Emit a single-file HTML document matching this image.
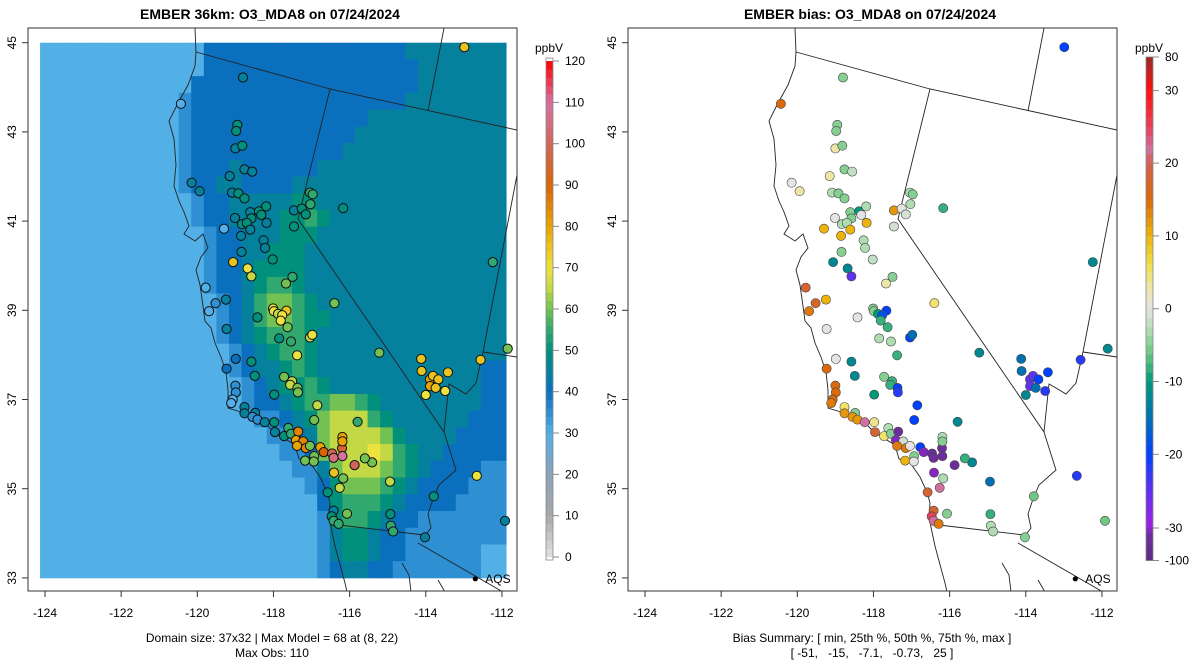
<!DOCTYPE html>
<html><head><meta charset="utf-8">
<style>
html,body{margin:0;padding:0;background:#fff;}
svg{display:block;font-family:"Liberation Sans",Arial,sans-serif;}
</style></head>
<body>
<svg id="chart" width="1200" height="672" viewBox="0 0 1200 672" xmlns="http://www.w3.org/2000/svg">
<defs>
<clipPath id="clipL"><rect x="28" y="28" width="489" height="563"/></clipPath>
<clipPath id="clipR"><rect x="628" y="28" width="489" height="563"/></clipPath>
</defs>
<text x="270" y="19" text-anchor="middle" font-size="14" font-weight="bold">EMBER 36km: O3_MDA8 on 07/24/2024</text>
<text x="870" y="19" text-anchor="middle" font-size="14" font-weight="bold">EMBER bias: O3_MDA8 on 07/24/2024</text>
<g id="leftPanel"></g>
<g id="rightPanel"></g>
<text x="272" y="642" text-anchor="middle" font-size="12">Domain size: 37x32 | Max Model = 68 at (8, 22)</text>
<text x="272" y="657" text-anchor="middle" font-size="12">Max Obs: 110</text>
<text x="872" y="642" text-anchor="middle" font-size="12">Bias Summary: [ min, 25th %, 50th %, 75th %, max ]</text>
<text x="872" y="657" text-anchor="middle" font-size="12" xml:space="preserve">[ -51,   -15,   -7.1,   -0.73,   25 ]</text>
</svg>
<script>
// ---- data ----
const xTicks = [-124,-122,-120,-118,-116,-114,-112];
const yTicks = [33,35,37,39,41,43,45];
const obsTicks = [0,10,20,30,40,50,60,70,80,90,100,110,120];
const biasTicks = [-100,-30,-20,-10,0,10,20,30,80];
const gridLon0 = -124.13, gridLon1 = -111.89, gridLat0 = 33.0, gridLat1 = 45.0;
// model grid, 32 rows (north->south) x 37 cols; digit d => 25 + 5*d ppbV
const gridRows = [
"1111111111111333333333333333344444444",
"1111111111111333333333333333334444444",
"1111111111113333333333333333334444444",
"1111111111123333333333333333344444444",
"1111111111123333333333333344444444444",
"1111111111123333333333333444444444444",
"1111111111123333333333334444444444444",
"1111111111123334333333444444444444444",
"1111111111123344333344444444444444444",
"1111111111112334444455444444444444444",
"1111111111112334444556544444444444444",
"1111111111111233444555444444444444444",
"1111111111111233445554444444444444444",
"1111111111111233455554444444444444444",
"1111111111111233456654444444444444444",
"1111111111111123467765444444444444444",
"1111111111111123467765544444444444444",
"1111111111111123456665444444444444444",
"1111111111111112345665444444444444444",
"1111111111111112344565444444444444433",
"1111111111111111234556544444444444433",
"1111111111111111233456677654444444433",
"1111111111111111122345788865444444333",
"1111111111111111112234788887544443333",
"1111111111111111111223788898654433333",
"1111111111111111111122478887654333322",
"1111111111111111111112357776543333222",
"1111111111111111111111356665433332222",
"1111111111111111111111256654332222222",
"1111111111111111111111245543322222222",
"1111111111111111111111245543322222211",
"1111111111111111111111234433222222211"];
const siteLon = [-112.99,-118.80,-120.43,-118.95,-118.98,-119.0,-118.82,-118.76,-118.56,-119.15,-120.15,-119.94,-119.09,-118.92,-118.76,-117.04,-116.97,-117.03,-116.17,-117.46,-117.26,-117.15,-117.46,-118.61,-118.38,-118.19,-118.32,-119.01,-118.83,-118.58,-118.70,-119.30,-118.61,-118.18,-118.85,-118.26,-118.22,-118.84,-118.02,-119.06,-118.68,-118.58,-119.78,-119.52,-119.69,-119.25,-117.50,-117.67,-116.40,-118.01,-117.99,-117.88,-117.66,-117.77,-117.81,-117.63,-118.42,-119.23,-117.85,-117.54,-117.04,-116.98,-117.38,-115.22,-118.99,-118.58,-119.23,-118.49,-117.72,-117.51,-117.56,-117.37,-117.36,-117.98,-114.12,-114.11,-113.89,-113.81,-113.67,-113.89,-113.74,-113.42,-113.49,-114.0,-112.56,-112.24,-111.85,-119.0,-118.99,-119.07,-119.11,-116.85,-116.93,-115.79,-118.76,-118.76,-118.48,-118.55,-118.42,-118.23,-117.98,-117.96,-117.72,-117.61,-117.54,-117.35,-117.41,-117.22,-117.38,-117.15,-117.04,-116.93,-117.17,-116.94,-116.77,-116.68,-116.46,-116.42,-116.20,-116.19,-116.19,-116.19,-115.87,-115.41,-115.60,-116.41,-116.17,-116.26,-116.58,-114.94,-112.66,-113.79,-116.42,-116.47,-116.42,-116.29,-116.07,-114.93,-114.92,-114.86,-114.02,-111.92];
const siteLat = [44.90,44.22,43.63,43.16,43.02,42.63,42.69,42.16,42.11,42.01,41.86,41.67,41.64,41.62,41.51,41.64,41.60,41.38,41.29,41.24,41.28,41.15,40.88,41.20,41.22,41.33,41.14,41.07,40.93,41.06,40.96,40.83,40.81,40.96,40.67,40.57,40.40,40.31,40.14,40.08,39.94,39.76,39.51,39.16,38.98,39.24,39.75,39.60,39.16,39.04,38.98,38.92,38.99,38.89,38.77,38.62,38.84,38.58,38.37,38.30,38.39,38.45,37.99,38.05,37.91,37.85,37.69,37.53,37.51,37.41,37.33,37.26,37.16,37.11,37.91,37.64,37.45,37.53,37.45,37.30,37.26,37.61,37.19,37.10,37.89,40.08,38.14,37.31,37.16,37.0,36.92,36.87,36.54,36.50,36.83,36.69,36.70,36.61,36.55,36.49,36.49,36.27,36.18,36.36,36.23,36.28,36.09,36.06,35.96,35.91,35.96,35.73,35.63,35.61,35.93,35.82,35.79,35.69,35.91,35.73,36.16,36.06,35.53,35.59,35.68,35.36,35.23,35.02,34.92,35.16,35.29,34.83,34.51,34.38,34.28,34.21,34.44,34.43,34.17,34.04,33.91,34.28];
const obsVal = [75,45,30,50,50,45,50,45,45,45,45,45,45,50,50,55,55,55,50,45,50,50,50,45,50,50,50,45,50,50,50,30,45,45,45,45,45,45,50,75,70,65,30,35,30,45,55,60,60,70,70,65,75,70,70,60,50,45,50,55,65,70,70,60,40,50,40,50,60,65,65,60,60,50,75,75,80,75,75,80,75,75,70,70,75,55,60,35,35,30,30,65,60,55,45,45,45,35,35,45,50,45,50,55,55,85,80,85,80,85,60,60,60,60,80,90,100,105,95,110,80,80,100,60,60,75,60,65,50,65,70,50,45,50,55,55,60,50,55,55,45,45];
const biasVal = [-20,-5,15,-5,-5,3,-5,-5,-2,3,0,3,-3,-5,-5,-3,-5,-3,-8,12,0,-1,-1,-5,-10,-3,0,0,-3,-5,-3,10,10,10,10,-3,-3,-5,-2,-12,-12,-25,18,17,14,10,-5,3,5,-5,-5,-10,-20,-18,-8,-8,0,0,-3,-3,-20,-15,-8,-12,0,-12,15,-12,-5,-8,-8,-20,-22,-10,-15,-15,-25,-25,-20,-25,-15,-20,-22,-12,-22,-12,-12,15,15,15,14,-20,-20,-12,5,12,-5,12,12,22,4,18,5,-3,-5,-45,-35,-1,14,14,0,-5,10,0,-20,-35,-45,-45,-40,-45,-3,-5,-45,-12,-8,-35,-3,22,18,-15,-22,-6,18,25,22,14,-5,-8,-3,-3,-5,-6];
const aqsLon = -112.70, aqsLat = 32.98;

// ---- scales ----
const NS = 'http://www.w3.org/2000/svg';
function lonToX(lon, x0){ return x0 + (lon + 124) * 38.08; }
function latToY(lat){ return 42.7 + (45 - lat) * 44.6; }
function obsToY(v){ return 557 - v * (557 - 61) / 120; }
function biasToY(v){
  if (v >= 30) return 90.6 - (v - 30) / 50 * (90.6 - 57);
  if (v <= -30) return 528 + (-30 - v) / 70 * (560.5 - 528);
  return 308.7 - v * 7.28;
}
const obsStops = [[0,'#e2e2e2'],[10,'#a8a8a8'],[20,'#8aa2b8'],[30,'#52b0e6'],[40,'#0a70bd'],[50,'#00907c'],[55,'#30a870'],[60,'#72c152'],[65,'#c2d844'],[70,'#eee23e'],[80,'#e8a402'],[90,'#d96404'],[100,'#d0665a'],[110,'#d472a2'],[120,'#ff0000']];
const biasStops = [[-100,'#5e2a80'],[-40,'#6e2ea0'],[-30,'#a020e2'],[-25,'#6032f0'],[-20,'#0040ff'],[-15,'#0070b2'],[-10,'#00987a'],[-6,'#6ec880'],[-3,'#b0dcb2'],[0,'#e4e4e4'],[3,'#eee6a6'],[6,'#f0e050'],[10,'#ecb40a'],[15,'#da6a0a'],[20,'#d06050'],[22,'#d070a0'],[25,'#e8405a'],[30,'#ff1010'],[80,'#9a2828']];
function hex(c){ return [parseInt(c.slice(1,3),16),parseInt(c.slice(3,5),16),parseInt(c.slice(5,7),16)]; }
function colorAt(stops, v){
  if (v <= stops[0][0]) return stops[0][1];
  for (let i=1;i<stops.length;i++){
    if (v <= stops[i][0]){
      const t=(v-stops[i-1][0])/(stops[i][0]-stops[i-1][0]);
      const a=hex(stops[i-1][1]), b=hex(stops[i][1]);
      return 'rgb('+a.map((x,k)=>Math.round(x+(b[k]-x)*t)).join(',')+')';
    }
  }
  return stops[stops.length-1][1];
}
function mk(tag, attrs, parent){
  const e=document.createElementNS(NS,tag);
  for(const k in attrs) e.setAttribute(k,attrs[k]);
  parent.appendChild(e); return e;
}

// geography outlines (pixel paths relative to left panel)
const coast = [[195,28],[196,52],[195,66],[188,85],[178,103],[169,121],[174,139],[176,165],[174,186],[179,201],[184,212],[189,226],[184,234],[195,241],[203,234],[208,248],[201,257],[196,270],[200,285],[203,306],[205,321],[211,328],[215,343],[221,357],[226,372],[228,390],[228,408],[241,412],[252,419],[265,423],[272,430],[282,437],[295,445],[299,459],[309,461],[320,477],[327,492],[330,503],[329,517],[332,532],[335,546],[339,561],[345,583],[349,601]];
const borders = [
 [[196,52],[330,89],[517,130]],
 [[444,28],[428,111]],
 [[330,89],[298,219],[444,432],[449,448],[456,470],[439,485],[433,499],[428,514],[431,528],[424,537]],
 [[517,175],[483,352],[476,383],[466,394],[456,388],[449,384],[444,432]],
 [[483,352],[517,357]],
 [[339,525],[424,535]],
 [[418,543],[503,592]],
 [[402,563],[409,575],[411,592]],
 [[438,580],[445,592]]
];

function buildPanel(g, x0, isBias){
  const off = x0 - 45;
  const clip = isBias ? 'url(#clipR)' : 'url(#clipL)';
  const inner = mk('g',{'clip-path':clip},g);
  
  
  if(!isBias){
    const nR=gridRows.length, nC=37;
    const dLon=(gridLon1-gridLon0)/nC, dLat=(gridLat1-gridLat0)/nR;
    for(let j=0;j<nR;j++){
      for(let i=0;i<nC;i++){
        const ch = gridRows[j][Math.min(i,gridRows[j].length-1)];
        const v = 25 + 5*parseInt(ch,10);
        const xa=lonToX(gridLon0+i*dLon,x0), xb=lonToX(gridLon0+(i+1)*dLon,x0);
        const ya=latToY(gridLat1-j*dLat), yb=latToY(gridLat1-(j+1)*dLat);
        const r=mk('rect',{x:xa.toFixed(2),y:ya.toFixed(2),width:(xb-xa+0.4).toFixed(2),height:(yb-ya+0.4).toFixed(2),fill:colorAt(obsStops,v)},inner);
        
        
      }
    }
  }
  const cp=mk('polyline',{points:coast.map(p=>(p[0]+off)+','+p[1]).join(' '),fill:'none',stroke:'#222','stroke-width':'0.9'},inner);
  
  
  borders.forEach(b=>{
    const bl=mk('polyline',{points:b.map(p=>(p[0]+off)+','+p[1]).join(' '),fill:'none',stroke:'#222','stroke-width':'0.9'},inner);
    
    
  });
  for(let k=0;k<siteLon.length;k++){
    const v = isBias ? biasVal[k] : obsVal[k];
    const c=mk('circle',{cx:lonToX(siteLon[k],x0).toFixed(1),cy:latToY(siteLat[k]).toFixed(1),r:4.6,fill:colorAt(isBias?biasStops:obsStops,v),stroke:isBias?'#444':'#111','stroke-width':isBias?'0.6':'1'},inner);
    
    
  }
  const ad=mk('circle',{cx:lonToX(aqsLon,x0),cy:latToY(aqsLat),r:2.6,fill:'#000'},g);
  
  
  const at=mk('text',{x:lonToX(aqsLon,x0)+10,y:latToY(aqsLat)+4,'font-size':'12'},g);
  at.textContent='AQS';
  
  
  const box=mk('rect',{x:x0-17,y:28,width:489,height:563,fill:'none',stroke:'#333','stroke-width':'1'},g);
  
  
  xTicks.forEach(t=>{
    const x=lonToX(t,x0);
    const tl=mk('line',{x1:x,x2:x,y1:591,y2:597,stroke:'#333'},g);
    
    
    const tx=mk('text',{x:x,y:617,'text-anchor':'middle','font-size':'12'},g);
    tx.textContent=String(t);
    
    
  });
  yTicks.forEach(t=>{
    const y=latToY(t);
    const tl=mk('line',{x1:x0-17,x2:x0-23,y1:y,y2:y,stroke:'#333'},g);
    
    
    const tx=mk('text',{x:0,y:0,'text-anchor':'middle','font-size':'12',transform:'translate('+(x0-29)+','+y+') rotate(-90)'},g);
    tx.textContent=String(t);
    
    
  });
  // colorbar
  const cbx = x0 + 501;
  const cb=mk('g',{},g);
  
  
  const N=60;
  if(!isBias){
    for(let i=0;i<N;i++){
      const va=120*i/N, vb=120*(i+1)/N;
      mk('rect',{x:cbx,y:obsToY(vb),width:7,height:obsToY(va)-obsToY(vb)+0.3,fill:colorAt(obsStops,(va+vb)/2)},cb);
    }
    mk('rect',{x:cbx,y:obsToY(120)-3,width:7,height:obsToY(0)-obsToY(120)+6,fill:'none',stroke:'#888','stroke-width':'0.8'},cb);
    obsTicks.forEach(t=>{
      const y=obsToY(t);
      mk('line',{x1:cbx+7,x2:cbx+13,y1:y,y2:y,stroke:'#888'},cb);
      const tx=mk('text',{x:cbx+19,y:y+4,'font-size':'12'},cb);
      tx.textContent=String(t);
      
      
    });
  } else {
    const segs=[[-100,-30],[-30,30],[30,80]];
    segs.forEach(s=>{
      const n = s[0]===-30?48:6;
      for(let i=0;i<n;i++){
        const va=s[0]+(s[1]-s[0])*i/n, vb=s[0]+(s[1]-s[0])*(i+1)/n;
        mk('rect',{x:cbx,y:biasToY(vb),width:7,height:biasToY(va)-biasToY(vb)+0.3,fill:colorAt(biasStops,(va+vb)/2)},cb);
      }
    });
    mk('rect',{x:cbx,y:biasToY(80),width:7,height:biasToY(-100)-biasToY(80),fill:'none',stroke:'#888','stroke-width':'0.8'},cb);
    biasTicks.forEach(t=>{
      const y=biasToY(t);
      mk('line',{x1:cbx+7,x2:cbx+13,y1:y,y2:y,stroke:'#888'},cb);
      const tx=mk('text',{x:cbx+19,y:y+4,'font-size':'12'},cb);
      tx.textContent=String(t);
      
      
    });
  }
  const un=mk('text',{x:cbx+3,y:52,'text-anchor':'middle','font-size':'12'},cb);
  un.textContent='ppbV';
  
  
}
buildPanel(document.getElementById('leftPanel'), 45, false);
buildPanel(document.getElementById('rightPanel'), 645, true);
</script>
</body></html>
